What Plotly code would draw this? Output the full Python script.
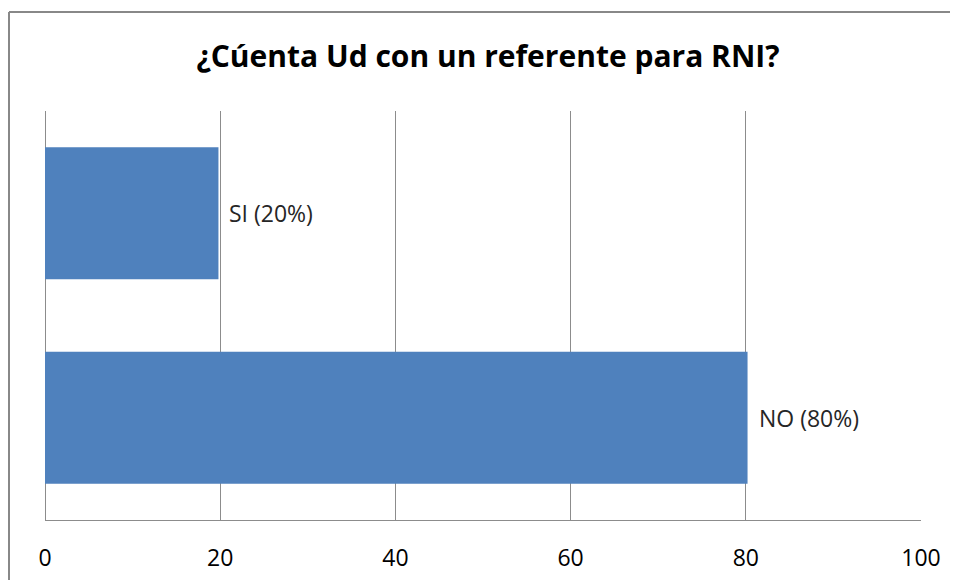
import plotly.graph_objects as go

# ---------------------------------------------------------------------
# DATA
# ---------------------------------------------------------------------
categories = ["NO", "SI"]
values = [80.2, 19.8]
bar_labels = ["NO (80%)", "SI (20%)"]
tick_vals = [0, 20, 40, 60, 80, 100]
title_text = "¿Cúenta Ud con un referente para RNI?"

GRID = "#8c8c8c"
BORDER = "#888888"
FONT = "Open Sans"

fig = go.Figure(
    go.Bar(
        y=categories,
        x=values,
        orientation="h",
        marker=dict(color="#4f81bd", line=dict(width=0)),
        width=0.645,
        hoverinfo="x+y",
    )
)

# value labels just to the right of each bar
for cat, val, lab in zip(categories, values, bar_labels):
    fig.add_annotation(
        x=val, y=cat, text=lab, showarrow=False,
        xanchor="left", yanchor="middle", xshift=9,
        font=dict(family=FONT, size=23, color="#262626"),
    )

# chart frame: only the top and left edges are visible in the crop
frame = [
    dict(type="line", xref="paper", yref="paper",
         x0=-0.0411, x1=1.2, y0=1.242, y1=1.242,
         line=dict(color=BORDER, width=2), layer="below"),
    dict(type="line", xref="paper", yref="paper",
         x0=-0.0411, x1=-0.0411, y0=-0.3, y1=1.242,
         line=dict(color=BORDER, width=2), layer="below"),
]

# page body adds an 8px offset, so margins are shifted to compensate
fig.update_layout(
    width=958,
    height=580,
    margin=dict(l=37, r=45, t=103, b=68),
    paper_bgcolor="white",
    plot_bgcolor="white",
    showlegend=False,
    title=dict(
        text=title_text,
        x=0.5057,
        xref="paper",
        xanchor="center",
        y=1 - 48 / 580,
        yanchor="middle",
        font=dict(family=FONT, size=30, color="black", weight="bold"),
    ),
    xaxis=dict(
        range=[0, 100],
        tickvals=tick_vals,
        showgrid=True,
        gridcolor=GRID,
        gridwidth=1,
        zeroline=True,
        zerolinecolor=GRID,
        zerolinewidth=1,
        showline=True,
        linecolor=GRID,
        linewidth=1,
        ticks="",
        tickfont=dict(family=FONT, size=23, color="black"),
        ticklabelstandoff=17,
    ),
    yaxis=dict(
        showticklabels=False,
        showgrid=False,
        zeroline=False,
        showline=False,
        ticks="",
    ),
    shapes=frame,
)

fig.write_html("out.html")
